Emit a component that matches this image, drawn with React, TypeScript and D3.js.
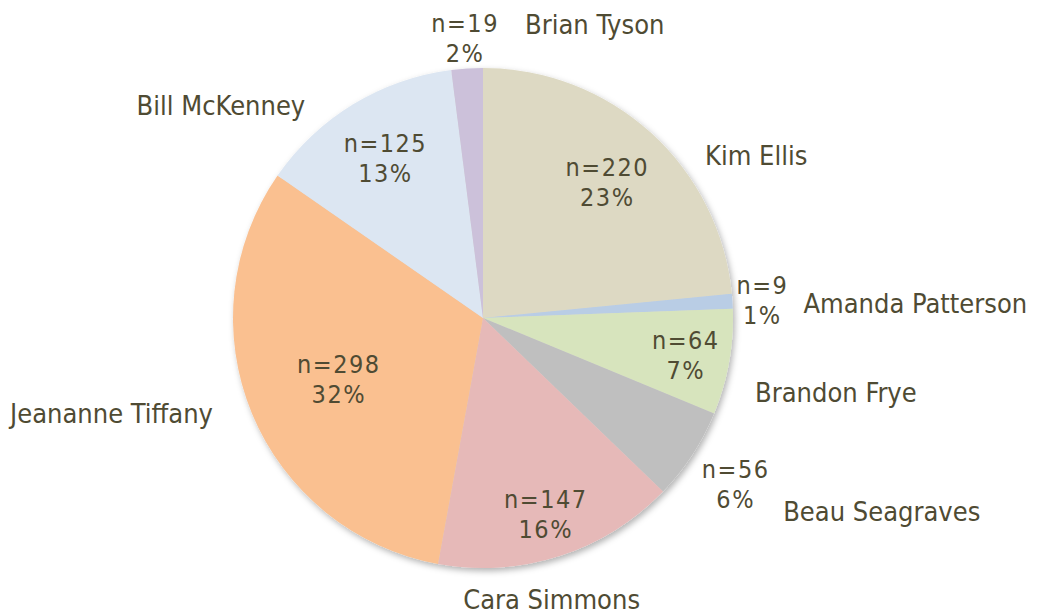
import React from 'react'
import * as d3 from 'd3'

// slice order: clockwise from 12 o'clock
const names = [
  'Kim Ellis',
  'Amanda Patterson',
  'Brandon Frye',
  'Beau Seagraves',
  'Cara Simmons',
  'Jeananne Tiffany',
  'Bill McKenney',
  'Brian Tyson',
]
const counts = [220, 9, 64, 56, 147, 298, 125, 19]
const colors = [
  '#ddd9c3',
  '#b9cde5',
  '#d7e4bd',
  '#bfbfbf',
  '#e6b9b8',
  '#fac090',
  '#dce6f2',
  '#ccc1da',
]

// label layout (Excel best-fit places some labels outside the pie)
const dataLabelR = [185, 280, 206, 302, 205, 156, 188, 282]
const nameLayout: { dx: number; dy: number; anchor: string }[] = [
  { dx: 54, dy: 23, anchor: 'start' },
  { dx: 71, dy: 2, anchor: 'start' },
  { dx: 26, dy: 30, anchor: 'start' },
  { dx: 91, dy: 57, anchor: 'start' },
  { dx: -8, dy: 44, anchor: 'middle' },
  { dx: -39, dy: 0, anchor: 'end' },
  { dx: -48, dy: 1, anchor: 'end' },
  { dx: 58, dy: -44, anchor: 'start' },
]

const W = 1037
const H = 616
const cx = 483
const cy = 318
const r = 250
const textColor = '#4f4b33'
const font = '"DejaVu Sans Condensed", "DejaVu Sans", sans-serif'

const App = () => {
  const total = d3.sum(counts)
  const pie = d3
    .pie<number>()
    .sort(null)
    .value((d) => d)
  const arcs = pie(counts)
  const arc = d3.arc<d3.PieArcDatum<number>>().innerRadius(0).outerRadius(r)

  const polar = (a: number, rad: number): [number, number] => [
    Math.sin(a) * rad,
    -Math.cos(a) * rad,
  ]

  return (
    <svg
      width={W}
      height={H}
      style={{ position: 'absolute', left: 0, top: 0, background: '#fff' }}
    >
      <defs>
        <filter id="shadow" x="-10%" y="-10%" width="120%" height="120%">
          <feDropShadow dx="2" dy="3" stdDeviation="3" floodColor="#000" floodOpacity="0.3" />
        </filter>
      </defs>
      <g transform={`translate(${cx},${cy})`}>
        <g filter="url(#shadow)">
          {arcs.map((a, i) => (
            <path key={i} d={arc(a) || ''} fill={colors[i]} />
          ))}
        </g>
        {arcs.map((a, i) => {
          const mid = (a.startAngle + a.endAngle) / 2
          const [x, y] = polar(mid, dataLabelR[i])
          const pct = Math.round((a.value / total) * 100)
          return (
            <text
              key={'d' + i}
              x={x}
              y={y}
              textAnchor="middle"
              fontFamily={font}
              fontSize={25}
              letterSpacing={1.5}
              fill={textColor}
            >
              <tspan x={x} dy={-5}>{`n=${a.value}`}</tspan>
              <tspan x={x} dy={30}>{`${pct}%`}</tspan>
            </text>
          )
        })}
        {arcs.map((a, i) => {
          const mid = (a.startAngle + a.endAngle) / 2
          const [x, y] = polar(mid, r)
          const l = nameLayout[i]
          return (
            <text
              key={'n' + i}
              x={x + l.dx}
              y={y + l.dy}
              textAnchor={l.anchor}
              dominantBaseline="central"
              fontFamily={font}
              fontSize={27}
              fill={textColor}
            >
              {names[i]}
            </text>
          )
        })}
      </g>
    </svg>
  )
}

export default App
